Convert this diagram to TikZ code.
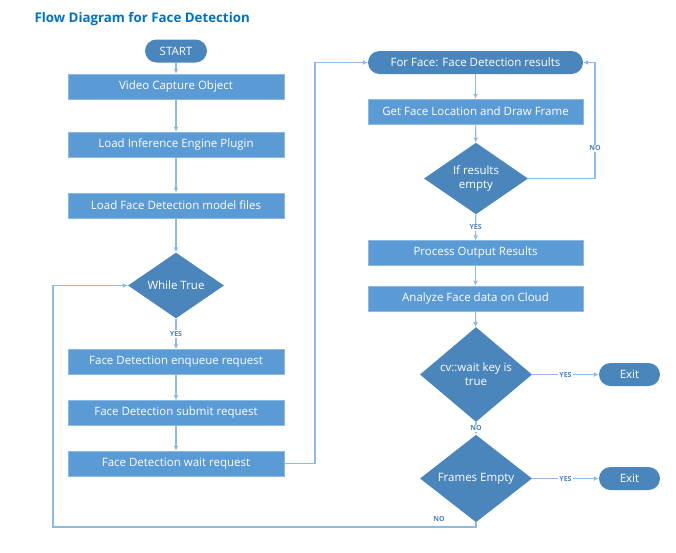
\documentclass[tikz,border=0pt]{standalone}
\usepackage{fontspec}
\setmainfont{Open Sans}
\usetikzlibrary{shapes.geometric,arrows.meta}
\definecolor{boxblue}{HTML}{5B9BD5}
\definecolor{darkblue}{HTML}{4A86BC}
\definecolor{lineblue}{HTML}{8DBBE6}
\definecolor{titleblue}{HTML}{0071C5}

\begin{document}
\begin{tikzpicture}[x=1pt,y=-1pt,
  box/.style={rectangle, fill=boxblue, draw=boxblue!70!white, text=white, minimum width=216pt, minimum height=25pt, inner sep=0pt, font=\fontsize{11.5}{13}\selectfont},
  term/.style={rectangle, rounded corners=11.5pt, fill=darkblue, text=white, minimum height=23pt, inner sep=0pt, font=\fontsize{11.5}{13}\selectfont},
  cond/.style={diamond, fill=darkblue, text=white, inner sep=0pt, align=center, font=\fontsize{11.5}{14}\selectfont},
  flow/.style={draw=lineblue, line width=1.2pt, -{Latex[length=5pt,width=5pt]}},
  lbl/.style={fill=white, text=darkblue, inner sep=1pt, font=\fontsize{7}{8}\selectfont\bfseries}]
\useasboundingbox (0,0) rectangle (676,552);

\node[anchor=west, text=titleblue, font=\fontsize{13.3}{15}\selectfont\bfseries] (title) at (31,19.5) {Flow Diagram for Face Detection};

% left column
\node[term, minimum width=62pt] (start) at (176,51) {START};
\node[box] (capture) at (176,86.5) {Video Capture Object};
\node[box] (plugin) at (176,144.5) {Load Inference Engine Plugin};
\node[box] (model) at (176,205.5) {Load Face Detection model files};
\node[cond, minimum width=96pt, minimum height=63pt] (while) at (176,285.5) {While True};
\node[box] (enqueue) at (176,362) {Face Detection enqueue request};
\node[box] (submit) at (176,413) {Face Detection submit request};
\node[box] (wait) at (176,463.5) {Face Detection wait request};

% right column
\node[term, minimum width=215pt] (forface) at (475.5,62.5) {For Face: Face Detection results};
\node[box, minimum width=215pt] (location) at (475.5,111.5) {Get Face Location and Draw Frame};
\node[cond, minimum width=104pt, minimum height=63pt] (empty) at (476,178.5) {If results\\empty};
\node[box, minimum width=215pt] (process) at (475.5,253) {Process Output Results};
\node[box, minimum width=215pt] (analyze) at (475.5,298.5) {Analyze Face data on Cloud};
\node[cond, minimum width=112pt, minimum height=69pt] (waitkey) at (476,374.5) {cv::wait key is\\true};
\node[cond, minimum width=112pt, minimum height=69pt] (frames) at (476,478.5) {Frames Empty};
\node[term, minimum width=61pt] (exit1) at (629.5,374.5) {Exit};
\node[term, minimum width=61pt] (exit2) at (629.5,478.5) {Exit};

\coordinate (rtop) at (315,62.5);
\coordinate (nright) at (595,178.5);
\coordinate (bleft) at (53,527);

\draw[flow] (start) -- (capture);
\draw[flow] (capture) -- (plugin);
\draw[flow] (plugin) -- (model);
\draw[flow] (model) -- (while);
\draw[flow] (while) -- node[lbl] {YES} (enqueue);
\draw[flow] (enqueue) -- (submit);
\draw[flow] (submit) -- (wait);
\draw[flow] (wait.east) -| (rtop) -- (forface.west);
\draw[flow] (forface) -- (location);
\draw[flow] (location) -- (empty);
\draw[flow] (empty.east) -- (nright) |- node[lbl, pos=0.13] {NO} (forface.east);
\draw[flow] (empty) -- node[lbl] {YES} (process);
\draw[flow] (process) -- (analyze);
\draw[flow] (analyze) -- (waitkey);
\draw[flow] (waitkey) -- node[lbl] {YES} (exit1);
\draw[flow] (waitkey) -- node[lbl] {NO} (frames);
\draw[flow] (frames) -- node[lbl] {YES} (exit2);
\draw[flow] (frames.south) |- (bleft) |- (while.west);
\node[lbl] (nolbl) at (439,519) {NO};

\end{tikzpicture}
\end{document}
